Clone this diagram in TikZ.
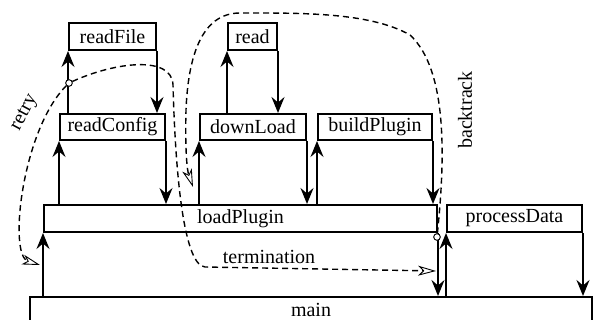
\documentclass[tikz,border=0pt]{standalone}
\usepackage{fontspec}
\setmainfont{Liberation Serif}
\usetikzlibrary{arrows.meta}

\begin{document}
\begin{tikzpicture}[x=1pt, y=-1pt,
  lbl/.style={font=\fontsize{20}{24}\selectfont},
  blk/.style={lbl, draw, line width=2pt, inner sep=0pt, rectangle},
  arr/.style={line width=2pt, -{Stealth[length=16pt, width=13pt, inset=5.5pt]}},
  dsh/.style={line width=1.4pt, dash pattern=on 6pt off 4pt,
              -{Stealth[open, length=18pt, width=10pt, inset=5pt, line width=0.9pt]}},
  knot/.style={circle, draw, fill=white, inner sep=0pt, minimum size=6.5pt, line width=0.8pt}]

\useasboundingbox (0,0) rectangle (594,320);
\clip (0,0) rectangle (594,320);

% call tree boxes
\node[blk, minimum width=87pt,  minimum height=27pt] (readFile)    at (112.5,36.5) {readFile};
\node[blk, minimum width=49pt,  minimum height=27pt] (read)        at (252.5,36.5) {read};
\node[blk, minimum width=105pt, minimum height=26pt] (readConfig)  at (112.5,127)  {readConfig};
\node[blk, minimum width=106pt, minimum height=26pt] (downLoad)    at (253,127)    {downLoad};
\node[blk, minimum width=114pt, minimum height=26pt] (buildPlugin) at (375,127)    {buildPlugin};
\node[blk, minimum width=393pt, minimum height=27pt] (loadPlugin)  at (240.5,218.5) {loadPlugin};
\node[blk, minimum width=135pt, minimum height=27pt] (processData) at (514.5,218.5) {processData};
\node[blk, minimum width=562pt, minimum height=26pt] (main)        at (311,310)    {main};

% call / return arrows
\draw[arr] (readFile.south west |- readConfig.north) -- (readFile.south west);
\draw[arr] (readFile.south east) -- (readFile.south east |- readConfig.north);
\draw[arr] (read.south west |- downLoad.north) -- (read.south west);
\draw[arr] (read.south east) -- (read.south east |- downLoad.north);

\draw[arr] (readConfig.south west |- loadPlugin.north) -- (readConfig.south west);
\draw[arr] (readConfig.south east) -- (readConfig.south east |- loadPlugin.north);
\draw[arr] (downLoad.south west |- loadPlugin.north) -- (downLoad.south west);
\draw[arr] (downLoad.south east) -- (downLoad.south east |- loadPlugin.north);
\draw[arr] (buildPlugin.south west |- loadPlugin.north) -- (buildPlugin.south west);
\draw[arr] (buildPlugin.south east) -- (buildPlugin.south east |- loadPlugin.north);

\draw[arr] (loadPlugin.south west |- main.north) -- (loadPlugin.south west);
\draw[arr] (loadPlugin.south east) -- (loadPlugin.south east |- main.north);
\draw[arr] (processData.south west |- main.north) -- (processData.south west);
\draw[arr] (processData.south east) -- (processData.south east |- main.north);

% control-flow markers
\node[knot] (k1) at (69,83) {};
\node[knot] (k2) at (437,237) {};
\coordinate (retryEnd) at (40,265);
\coordinate (termEnd)  at (436,271);
\coordinate (backEnd)  at (193,187);

% retry
\draw[dsh] (k1) .. controls (22,130) and (8,255) .. (retryEnd);
% termination
\draw[dsh] (k1) .. controls (115,62) and (172,55) .. (173,85)
                .. controls (175,160) and (182,265) .. (205,267) -- (termEnd);
% backtrack
\draw[dsh] (k2) .. controls (445,160) and (448,70) .. (410,35)
                .. controls (370,12) and (300,13) .. (240,13)
                .. controls (200,13) and (188,60) .. (186,110)
                .. controls (185,150) and (187,170) .. (backEnd);

% redraw the markers above the dashed curves
\node[knot] at (k1) {};
\node[knot] at (k2) {};

% labels
\node[lbl, rotate=62] (retryLbl) at (25,113) {retry};
\node[lbl, rotate=90] (backLbl) at (465,110) {backtrack};
\node[lbl] (termLbl) at (269,257) {termination};

\end{tikzpicture}
\end{document}
